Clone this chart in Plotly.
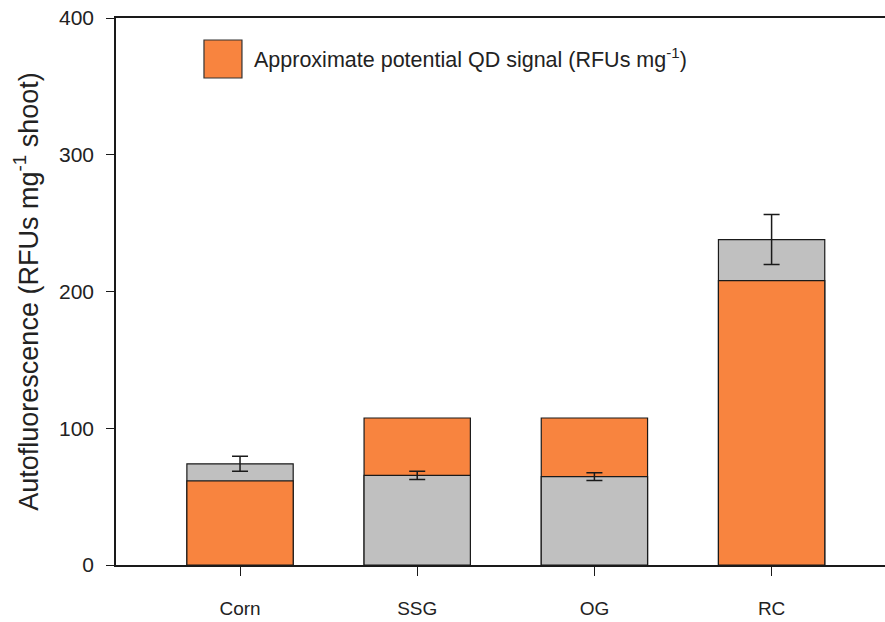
import plotly.graph_objects as go

# Shoot autofluorescence vs. approximate potential QD signal per crop
crops = ["Corn", "SSG", "OG", "RC"]
autofluorescence = [74, 65.5, 64.6, 238]     # grey bars (RFUs mg^-1 shoot)
autofluorescence_err = [5.5, 3.0, 2.8, 18.3]
qd_signal = [61.5, 107.5, 107.5, 208]         # orange bars (RFUs mg^-1)

ORANGE = "#F8843F"
GREY = "#C0C0C0"

# Overlaid bars: the taller bar of each pair goes behind the shorter one
tall_vals, tall_cols, short_vals, short_cols = [], [], [], []
for a, q in zip(autofluorescence, qd_signal):
    if a >= q:
        tall_vals.append(a); tall_cols.append(GREY)
        short_vals.append(q); short_cols.append(ORANGE)
    else:
        tall_vals.append(q); tall_cols.append(ORANGE)
        short_vals.append(a); short_cols.append(GREY)

fig = go.Figure()
for vals, cols in ((tall_vals, tall_cols), (short_vals, short_cols)):
    fig.add_trace(go.Bar(
        x=crops, y=vals, width=0.6,
        marker=dict(color=cols, line=dict(color="#1a1a1a", width=1.2)),
        showlegend=False, hoverinfo="skip",
    ))

# Error bars for autofluorescence
fig.add_trace(go.Scatter(
    x=crops, y=autofluorescence, mode="markers",
    marker=dict(size=0.1, color="rgba(0,0,0,0)"),
    error_y=dict(type="data", array=autofluorescence_err, visible=True,
                 color="#1a1a1a", thickness=1.5, width=8),
    showlegend=False, hoverinfo="skip",
))

FONT = "Liberation Sans, Arial, sans-serif"

fig.update_layout(
    width=885, height=622, autosize=False,
    margin=dict(l=116, r=0, t=18, b=57),
    paper_bgcolor="white", plot_bgcolor="white",
    barmode="overlay", bargap=0.4,
    font=dict(family=FONT, size=19, color="#222222"),
    xaxis=dict(
        type="category", range=[-0.70, 3.64], automargin=False,
        showline=True, linecolor="#1a1a1a", linewidth=1.5, mirror=True,
        ticks="outside", ticklen=9, tickwidth=1.2, tickcolor="#1a1a1a",
        ticklabelstandoff=16,
        showgrid=False, zeroline=False,
        tickfont=dict(size=19, family=FONT, color="#222222"),
    ),
    yaxis=dict(
        range=[0, 400], tickvals=[0, 100, 200, 300, 400], automargin=False,
        showline=True, linecolor="#1a1a1a", linewidth=1.5,
        ticks="outside", ticklen=8, tickwidth=1.2, tickcolor="#1a1a1a",
        ticklabelstandoff=8,
        showgrid=False, zeroline=False,
        tickfont=dict(size=21, family=FONT, color="#222222"),
        title=dict(text="Autofluorescence (RFUs mg<sup>-1</sup> shoot)",
                   font=dict(size=27, family=FONT, color="#222222"),
                   standoff=13),
    ),
)

# Legend key drawn as a box with a label
fig.add_shape(type="rect", xref="paper", yref="paper",
              x0=0.1144, x1=0.1638, y0=0.8903, y1=0.9598,
              fillcolor=ORANGE, line=dict(color="#333333", width=1.2))
fig.add_annotation(xref="paper", yref="paper", x=0.177, y=0.927,
                   xanchor="left", yanchor="middle", showarrow=False,
                   text="Approximate potential QD signal (RFUs mg<sup>-1</sup>)",
                   font=dict(size=21.5, family=FONT, color="#222222"))

fig.write_html("out.html")
